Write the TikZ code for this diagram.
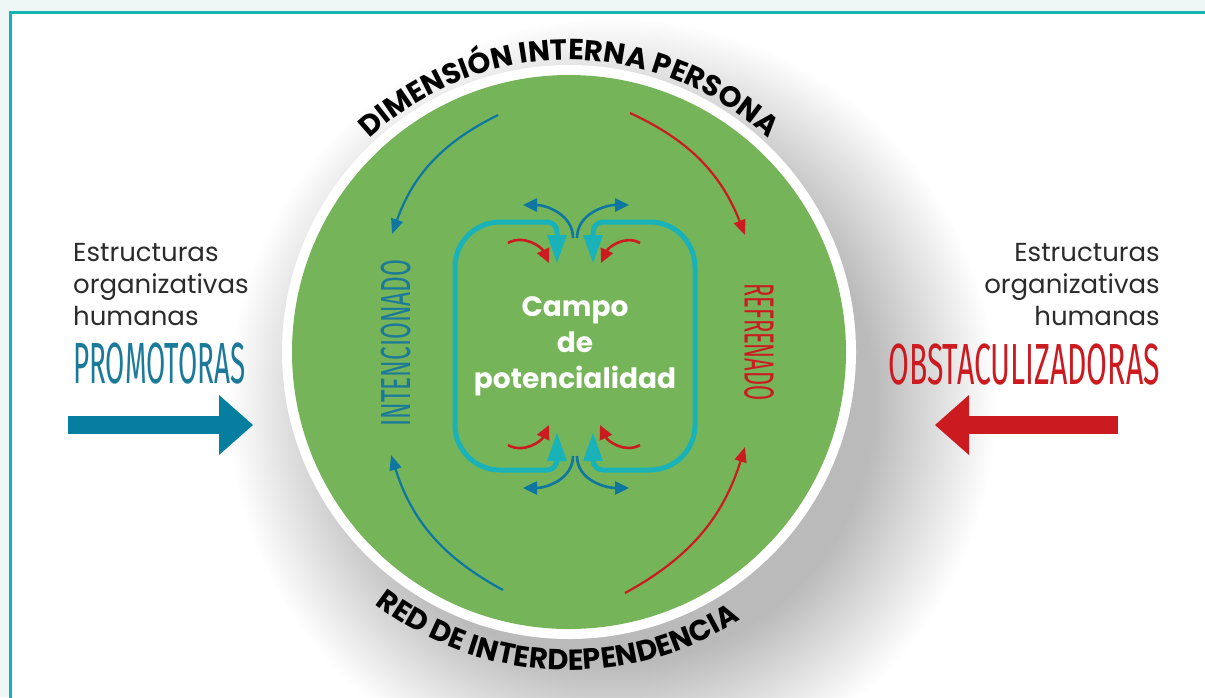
\documentclass[tikz,border=0pt]{standalone}
\usepackage{fontspec}
\setmainfont{Poppins}
\newfontfamily\handfont[FakeStretch=0.48]{Fira Sans}
\newfontfamily\handwide[FakeStretch=0.58]{Fira Sans}
\newfontfamily\handmid[FakeStretch=0.52]{Fira Sans}
\usepackage{xcolor}
\usetikzlibrary{arrows.meta,decorations.text,positioning}

\definecolor{pagebg}{HTML}{EEF7F6}
\definecolor{framecol}{HTML}{14B4B4}
\definecolor{leafgreen}{HTML}{75B459}
\definecolor{boxteal}{HTML}{19B2B8}
\definecolor{arrowblue}{HTML}{0D77A2}
\definecolor{wordblue}{HTML}{1B7A99}
\definecolor{bigblue}{HTML}{057E9F}
\definecolor{arrowred}{HTML}{CC1B20}
\definecolor{wordgray}{HTML}{2B2B2B}

\pgfdeclareradialshading{softshadow}{\pgfpoint{0bp}{0bp}}{color(0bp)=(black!28); color(17bp)=(black!27); color(25bp)=(white); color(50bp)=(white)}

\begin{document}
\begin{tikzpicture}[x=1pt,y=1pt,
  thin arrow/.style={line width=2.2pt,-{Triangle[width=12pt,length=15pt]}},
  small arrow/.style={line width=2.6pt,-{Triangle[width=13pt,length=14pt]}},
  box arrow/.style={line width=5pt,draw=boxteal,{Triangle[width=20pt,length=28pt,line width=0pt]}-{Triangle[width=20pt,length=28pt,line width=0pt]}},
  big arrow/.style={line width=18pt,-{Triangle[width=60pt,length=34pt,line width=0pt]}},
  hand/.style={inner sep=0pt,font=\handfont\fontsize{42}{42}\selectfont},
  plain/.style={inner sep=0pt,text=wordgray,font=\fontsize{26}{32}\selectfont},
  arc words/.style={decorate,decoration={text along path,text align=center,
    text={|\bfseries\fontsize{29}{29}\selectfont|#1}}}]
\useasboundingbox (0,0) rectangle (1205,-697);
\fill[pagebg] (0,0) rectangle (1205,-697);
\filldraw[fill=white,draw=framecol,line width=3pt] (10.5,-12.5) rectangle (1220,-720);
%
\shade[shading=softshadow] (612,-402) circle[radius=385];
\fill[white] (569,-352) circle[radius=287];
\fill[leafgreen] (569,-352) circle[radius=277];
%
\path[arc words={DIMENSIÓN INTERNA PERSONA}] (569,-352) ++(137:292) arc[start angle=137,end angle=43,radius=292];
\path[arc words={RED DE INTERDEPENDENCIA}] (569,-352) ++(226:318) arc[start angle=226,end angle=309,radius=318];
%
\node[align=center,text=white,inner sep=0pt,font=\bfseries\fontsize{28}{36}\selectfont] (campo) at (575,-346) {Campo\\de\\potencialidad};
\node[hand,text=wordblue,rotate=90,font=\handwide\fontsize{42}{42}\selectfont] (inten) at (396,-343) {INTENCIONADO};
\node[hand,text=arrowred,rotate=-90,font=\handmid\fontsize{42}{42}\selectfont] (refre) at (759,-342) {REFRENADO};
%
\node[plain,align=left,anchor=north west] (leftwords) at (73,-243) {Estructuras\\organizativas\\humanas};
\node[plain,align=right,anchor=north east] (rightwords) at (1160,-243) {Estructuras\\organizativas\\humanas};
\node[hand,anchor=base west,text=wordblue,font=\handfont\fontsize{58}{58}\selectfont] (promo) at (73,-383) {PROMOTORAS};
\node[hand,anchor=base east,text=arrowred,font=\handmid\fontsize{58}{58}\selectfont] (obsta) at (1160,-384) {OBSTACULIZADORAS};
%
\coordinate (bl0) at (68,-425);
\coordinate (bl1) at (253,-425);
\coordinate (rd0) at (1118,-425);
\coordinate (rd1) at (935,-425);
\draw[big arrow,draw=bigblue] (bl0) -- (bl1);
\draw[big arrow,draw=arrowred] (rd0) -- (rd1);
%
\coordinate (tb0) at (498,-115);
\coordinate (tb1) at (392,-234);
\coordinate (tr0) at (630,-113);
\coordinate (tr1) at (745,-235);
\coordinate (bb0) at (503,-590);
\coordinate (bb1) at (391,-455);
\coordinate (br0) at (625,-593);
\coordinate (br1) at (745,-447);
\path[thin arrow,color=arrowblue]
  (tb0) edge[bend right=22] (tb1)
  (bb0) edge[bend left=22] (bb1);
\path[thin arrow,color=arrowred]
  (tr0) edge[bend left=22] (tr1)
  (br0) edge[bend right=22] (br1);
%
\coordinate (lt) at (557,-263);
\coordinate (lb) at (557,-433);
\coordinate (rt) at (593,-263);
\coordinate (rb) at (593,-433);
\draw[box arrow] (lt) -- (557,-232) arc[start angle=0,end angle=90,radius=10] -- (500,-222)
  arc[start angle=90,end angle=180,radius=45] -- (455,-425)
  arc[start angle=180,end angle=270,radius=45] -- (547,-470)
  arc[start angle=270,end angle=360,radius=10] -- (lb);
\draw[box arrow] (rt) -- (593,-232) arc[start angle=180,end angle=90,radius=10] -- (650,-222)
  arc[start angle=90,end angle=0,radius=45] -- (695,-425)
  arc[start angle=360,end angle=270,radius=45] -- (603,-470)
  arc[start angle=270,end angle=180,radius=10] -- (rb);
%
\coordinate (sb1) at (573,-238);
\coordinate (sb2) at (577,-238);
\coordinate (sb3) at (573,-456);
\coordinate (sb4) at (577,-456);
\coordinate (tl) at (523,-205);
\coordinate (tr) at (629,-205);
\coordinate (dl) at (523,-488);
\coordinate (dr) at (629,-488);
\path[small arrow,color=arrowblue]
  (sb1) edge[out=90,in=0] (tl)
  (sb2) edge[out=90,in=180] (tr)
  (sb3) edge[out=-90,in=0] (dl)
  (sb4) edge[out=-90,in=180] (dr);
%
\coordinate (ra0) at (508,-243);
\coordinate (ra1) at (549,-263);
\coordinate (rb0) at (640,-243);
\coordinate (rb1) at (601,-263);
\coordinate (rc0) at (508,-445);
\coordinate (rc1) at (549,-425);
\coordinate (rd2) at (640,-445);
\coordinate (rd3) at (600,-425);
\path[small arrow,color=arrowred]
  (ra0) edge[out=30,in=115] (ra1)
  (rb0) edge[out=150,in=65] (rb1)
  (rc0) edge[out=-30,in=-115] (rc1)
  (rd2) edge[out=-150,in=-65] (rd3);
\end{tikzpicture}
\end{document}
